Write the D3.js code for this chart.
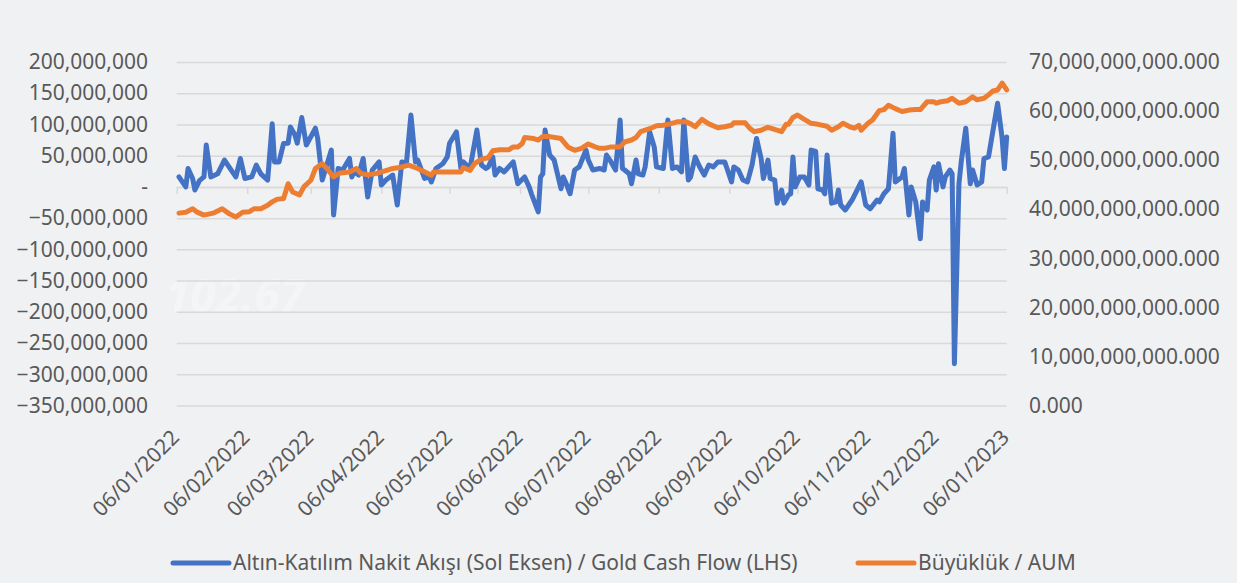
<!DOCTYPE html>
<html>
<head>
<meta charset="utf-8">
<script src="https://cdn.jsdelivr.net/npm/d3@7"></script>
<style>
    body { margin: 0; background: #f0f1f3; overflow: hidden; }
    #chart-area { width: 1237px; height: 583px; }
    text { font-family: "Noto Sans", "Open Sans", sans-serif; }
</style>
</head>
<body>
<div id="chart-area"></div>
<script>

// series data (day = days after 06/01/2022)
const startDate = new Date(2022, 0, 6);

const flowDay = [1, 4, 5, 7, 8, 10, 12, 13, 15, 18, 21, 23, 26, 28, 30, 33, 35, 37, 40, 42, 43, 45, 47, 49, 50, 52, 53, 55, 57, 61,
    62, 64, 66, 68, 69, 71, 73, 76, 77, 78, 80, 82, 84, 86, 89, 90, 92, 95, 97, 99, 101, 103, 105, 106, 109, 111, 112, 114, 117, 119,
    120, 123, 125, 126, 129, 132, 134, 136, 137, 139, 140, 142, 144, 146, 148, 150, 153, 155, 156, 159, 160, 161, 162, 164, 166, 169, 170, 171, 173, 175,
    177, 180, 181, 183, 186, 188, 189, 191, 193, 195, 196, 197, 199, 200, 202, 203, 205, 206, 208, 210, 211, 214, 216, 218, 220, 222, 223, 225, 226, 228,
    230, 232, 234, 236, 238, 241, 242, 244, 245, 247, 249, 251, 253, 255, 257, 258, 260, 261, 263, 264, 266, 267, 269, 270, 271, 272, 274, 276, 278, 279,
    281, 282, 284, 285, 286, 288, 290, 291, 292, 294, 297, 301, 303, 305, 308, 309, 311, 313, 315, 316, 319, 320, 322, 323, 325, 327, 328, 330, 331, 333,
    334, 335, 337, 338, 340, 341, 342, 344, 345, 347, 349, 350, 352, 354, 355, 357, 361, 363, 364, 365];

const flowMillions = [16, 0, 29.5, 13.5, -5, 10, 16, 67, 16, 21, 43, 32, 16, 45.5, 13.5, 16, 35, 21, 11, 101, 40, 40, 69.6, 70, 96, 83, 70, 111, 67, 94,
    77.6, 11, 35, 59, -45, 29.5, 27, 45.5, 16, 24, 19, 45.5, -16, 27, 40, 3, 11, 19, -29, 40, 37, 115, 40, 43, 13.5, 16, 8, 29.5, 37, 48,
    70, 88, 29.5, 40, 29.5, 91, 35, 29.5, 32, 48, 19, 29.5, 24, 32, 40, 5, 16, 0, -11, -40, 16, 21, 91, 51, 43, -3, 16, 8, -11, 27,
    32, 59, 43, 27, 29.5, 27, 51, 40, 27, 107, 29.5, 27, 21, 5, 43, 21, 19, 32, 88, 64, 32, 29.5, 107, 29.5, 32, 24, 107, 11, 16, 48,
    32, 19, 35, 32, 40, 40, 29.5, 8, 32, 27, 11, 8, 35, 77.6, 45.5, 13.5, 43, 13.5, 11, -26, -5, -26, -13, -11, 48, 0, 16, 16, 3, 59,
    57, -3, -5, -11, 51, -26, -24, -5, -29, -37, -21, 8, -29, -35, -21, -24, -11, -3, 86, 8, 16, 29.5, -45, 0, -24, -83, -24, -37, 11, 32,
    -5, 37, 0, 16, 27, 21, -283, 5, 40, 94, 5, 27, 3, 8, 45.5, 48, 134, 77.6, 29.5, 80];

const aumDay = [1, 4, 7, 9, 12, 16, 20, 23, 26, 29, 32, 34, 37, 40, 42, 44, 47, 49, 51, 54, 56, 59, 61, 64, 66, 69, 72, 76, 79, 81,
    84, 88, 93, 95, 98, 102, 106, 112, 113, 119, 125, 126, 129, 131, 134, 137, 139, 142, 146, 148, 150, 152, 153, 157, 159, 161, 164, 169, 172, 175,
    178, 181, 184, 186, 188, 191, 195, 197, 200, 202, 204, 206, 208, 211, 214, 217, 220, 224, 226, 228, 231, 234, 238, 241, 244, 245, 250, 252, 254, 257,
    260, 264, 266, 268, 269, 271, 273, 276, 279, 282, 286, 288, 291, 293, 296, 298, 300, 301, 304, 306, 309, 311, 313, 316, 319, 322, 325, 327, 330, 333,
    334, 336, 339, 341, 344, 347, 350, 352, 355, 357, 359, 361, 363, 365];

const aumBillions = [39.2, 39.4, 40.1, 39.4, 38.8, 39.2, 40.1, 39.1, 38.4, 39.4, 39.5, 40.1, 40.1, 40.8, 41.5, 42.0, 42.2, 45.2, 43.5, 42.9, 44.6, 45.9, 48.3, 49.3, 48.3, 46.6, 47.4, 47.6, 48.3, 47.3,
    47.0, 47.3, 48.0, 48.3, 48.5, 49.0, 48.3, 46.9, 47.6, 47.6, 47.6, 48.5, 47.9, 49.3, 50.2, 50.5, 51.9, 52.1, 52.1, 52.7, 52.7, 53.4, 54.6, 54.4, 54.1, 54.8, 54.8, 54.4, 52.7, 52.0,
    52.4, 53.3, 52.7, 52.4, 52.4, 52.7, 52.7, 53.7, 54.1, 54.6, 55.8, 56.1, 56.4, 57.0, 57.1, 57.4, 57.8, 57.8, 57.4, 56.8, 58.3, 57.4, 56.6, 56.8, 57.1, 57.6, 57.6, 56.5, 55.8, 56.1,
    56.7, 56.1, 55.8, 57.3, 57.3, 58.7, 59.2, 58.3, 57.5, 57.3, 56.9, 56.1, 56.8, 57.5, 56.8, 56.5, 57.1, 56.1, 57.5, 58.2, 60.1, 60.3, 61.2, 60.5, 59.9, 60.2, 60.3, 60.3, 61.9, 61.9,
    61.6, 61.9, 62.1, 62.6, 61.6, 61.9, 62.9, 62.3, 62.6, 63.3, 64.1, 64.3, 65.7, 64.3];

// axis ticks
const leftTickMillions = [-350, -300, -250, -200, -150, -100, -50, 0, 50, 100, 150, 200];
const rightTickBillions = [0, 10, 20, 30, 40, 50, 60, 70];
const dateTicks = ["06/01/2022", "06/02/2022", "06/03/2022", "06/04/2022", "06/05/2022", "06/06/2022", "06/07/2022",
    "06/08/2022", "06/09/2022", "06/10/2022", "06/11/2022", "06/12/2022", "06/01/2023"];

const seriesNames = ["Altın-Katılım Nakit Akışı (Sol Eksen) / Gold Cash Flow (LHS)", "Büyüklük / AUM"];
const seriesColors = ["#4472c4", "#ed7d31"];


class FlowChart {

    constructor(parentElement) {
        this.parentElement = parentElement;
        this.parseDate = d3.timeParse("%d/%m/%Y");
        this.formatDate = d3.timeFormat("%d/%m/%Y");

        this.flowData = flowDay.map((d, i) => ({date: d3.timeDay.offset(startDate, d), value: flowMillions[i] * 1e6}));
        this.aumData = aumDay.map((d, i) => ({date: d3.timeDay.offset(startDate, d), value: aumBillions[i] * 1e9}));

        this.initVis();
    }

    initVis() {
        let vis = this;

        vis.margin = {top: 62, right: 230.3, bottom: 177.5, left: 176.7};
        vis.width = 1237 - vis.margin.left - vis.margin.right;
        vis.height = 583 - vis.margin.top - vis.margin.bottom;

        vis.root = d3.select("#" + vis.parentElement).append("svg")
            .attr("width", 1237)
            .attr("height", 583);

        vis.root.append("rect")
            .attr("width", 1237)
            .attr("height", 583)
            .attr("fill", "#f0f1f3");

        // faint background watermark
        vis.root.append("text")
            .attr("x", 165)
            .attr("y", 312)
            .attr("font-size", 46)
            .attr("font-style", "italic")
            .attr("font-weight", "bold")
            .attr("fill", "#ffffff")
            .attr("opacity", 0.35)
            .text("102.67");

        vis.svg = vis.root.append("g")
            .attr("transform", "translate(" + vis.margin.left + "," + vis.margin.top + ")");

        // scales
        vis.x = d3.scaleTime()
            .domain([vis.parseDate(dateTicks[0]), vis.parseDate(dateTicks[dateTicks.length - 1])])
            .range([0, vis.width]);
        vis.yLeft = d3.scaleLinear()
            .domain([-350e6, 200e6])
            .range([vis.height, 0]);
        vis.yRight = d3.scaleLinear()
            .domain([0, 70e9])
            .range([vis.height, 0]);

        // gridlines
        vis.svg.append("g")
            .attr("class", "grid")
            .call(d3.axisLeft(vis.yLeft)
                .tickValues(leftTickMillions.map(d => d * 1e6))
                .tickSize(-vis.width)
                .tickFormat(""))
            .call(g => g.select(".domain").remove())
            .call(g => g.selectAll("line").attr("stroke", "#d9d9d9").attr("stroke-width", 1.5));

        // left axis
        let fmtLeft = d3.format(",");
        vis.svg.append("g")
            .attr("class", "y-axis-left")
            .call(d3.axisLeft(vis.yLeft)
                .tickValues(leftTickMillions.map(d => d * 1e6))
                .tickSize(0)
                .tickPadding(28.7)
                .tickFormat(d => d === 0 ? "-" : fmtLeft(d)))
            .call(g => g.select(".domain").remove())
            .call(g => g.selectAll("text").attr("font-size", 21).attr("fill", "#595959")
                .attr("font-family", "'Noto Sans', 'Open Sans', sans-serif"));

        // right axis
        let fmtRight = d3.format(",.3f");
        vis.svg.append("g")
            .attr("class", "y-axis-right")
            .attr("transform", "translate(" + vis.width + ",0)")
            .call(d3.axisRight(vis.yRight)
                .tickValues(rightTickBillions.map(d => d * 1e9))
                .tickSize(0)
                .tickPadding(22.3)
                .tickFormat(fmtRight))
            .call(g => g.select(".domain").remove())
            .call(g => g.selectAll("text").attr("font-size", 21).attr("fill", "#595959")
                .attr("font-family", "'Noto Sans', 'Open Sans', sans-serif"));

        let monthDates = dateTicks.map(d => vis.parseDate(d));

        // x axis line sits at zero
        vis.svg.append("g")
            .attr("class", "x-axis-line")
            .attr("transform", "translate(0," + vis.yLeft(0) + ")")
            .call(d3.axisBottom(vis.x)
                .tickValues(monthDates)
                .tickSizeInner(7)
                .tickSizeOuter(0)
                .tickFormat(""))
            .call(g => g.select(".domain").attr("stroke", "#d9d9d9").attr("stroke-width", 1.5))
            .call(g => g.selectAll("line").attr("stroke", "#d9d9d9").attr("stroke-width", 1.5));

        // x labels at the bottom
        vis.svg.append("g")
            .attr("class", "x-axis-labels")
            .attr("transform", "translate(0," + vis.height + ")")
            .call(d3.axisBottom(vis.x)
                .tickValues(monthDates)
                .tickSize(0)
                .tickFormat(vis.formatDate))
            .call(g => g.select(".domain").remove())
            .selectAll("text")
            .attr("font-size", 21)
            .attr("fill", "#595959")
            .attr("font-family", "'Noto Sans', 'Open Sans', sans-serif")
            .attr("text-anchor", "end")
            .attr("dy", "0.35em")
            .attr("transform", "translate(-4,26) rotate(-45)");

        // lines
        let flowLine = d3.line()
            .x(d => vis.x(d.date))
            .y(d => vis.yLeft(d.value));
        let aumLine = d3.line()
            .x(d => vis.x(d.date))
            .y(d => vis.yRight(d.value));

        vis.svg.append("path")
            .datum(vis.flowData)
            .attr("fill", "none")
            .attr("stroke", seriesColors[0])
            .attr("stroke-width", 5)
            .attr("stroke-linejoin", "round")
            .attr("stroke-linecap", "round")
            .attr("d", flowLine);

        vis.svg.append("path")
            .datum(vis.aumData)
            .attr("fill", "none")
            .attr("stroke", seriesColors[1])
            .attr("stroke-width", 5)
            .attr("stroke-linejoin", "round")
            .attr("stroke-linecap", "round")
            .attr("d", aumLine);

        // legend
        let legendX = [173, 858];
        let legend = vis.root.append("g").attr("class", "legend");
        seriesNames.forEach((name, i) => {
            legend.append("line")
                .attr("x1", legendX[i])
                .attr("x2", legendX[i] + 56)
                .attr("y1", 563)
                .attr("y2", 563)
                .attr("stroke", seriesColors[i])
                .attr("stroke-width", 5)
                .attr("stroke-linecap", "round");
            legend.append("text")
                .attr("x", legendX[i] + 60)
                .attr("y", 563)
                .attr("dy", "0.35em")
                .attr("font-size", 21)
                .attr("fill", "#595959")
                .text(name);
        });
    }
}

let myFlowChart = new FlowChart("chart-area");

</script>
</body>
</html>
